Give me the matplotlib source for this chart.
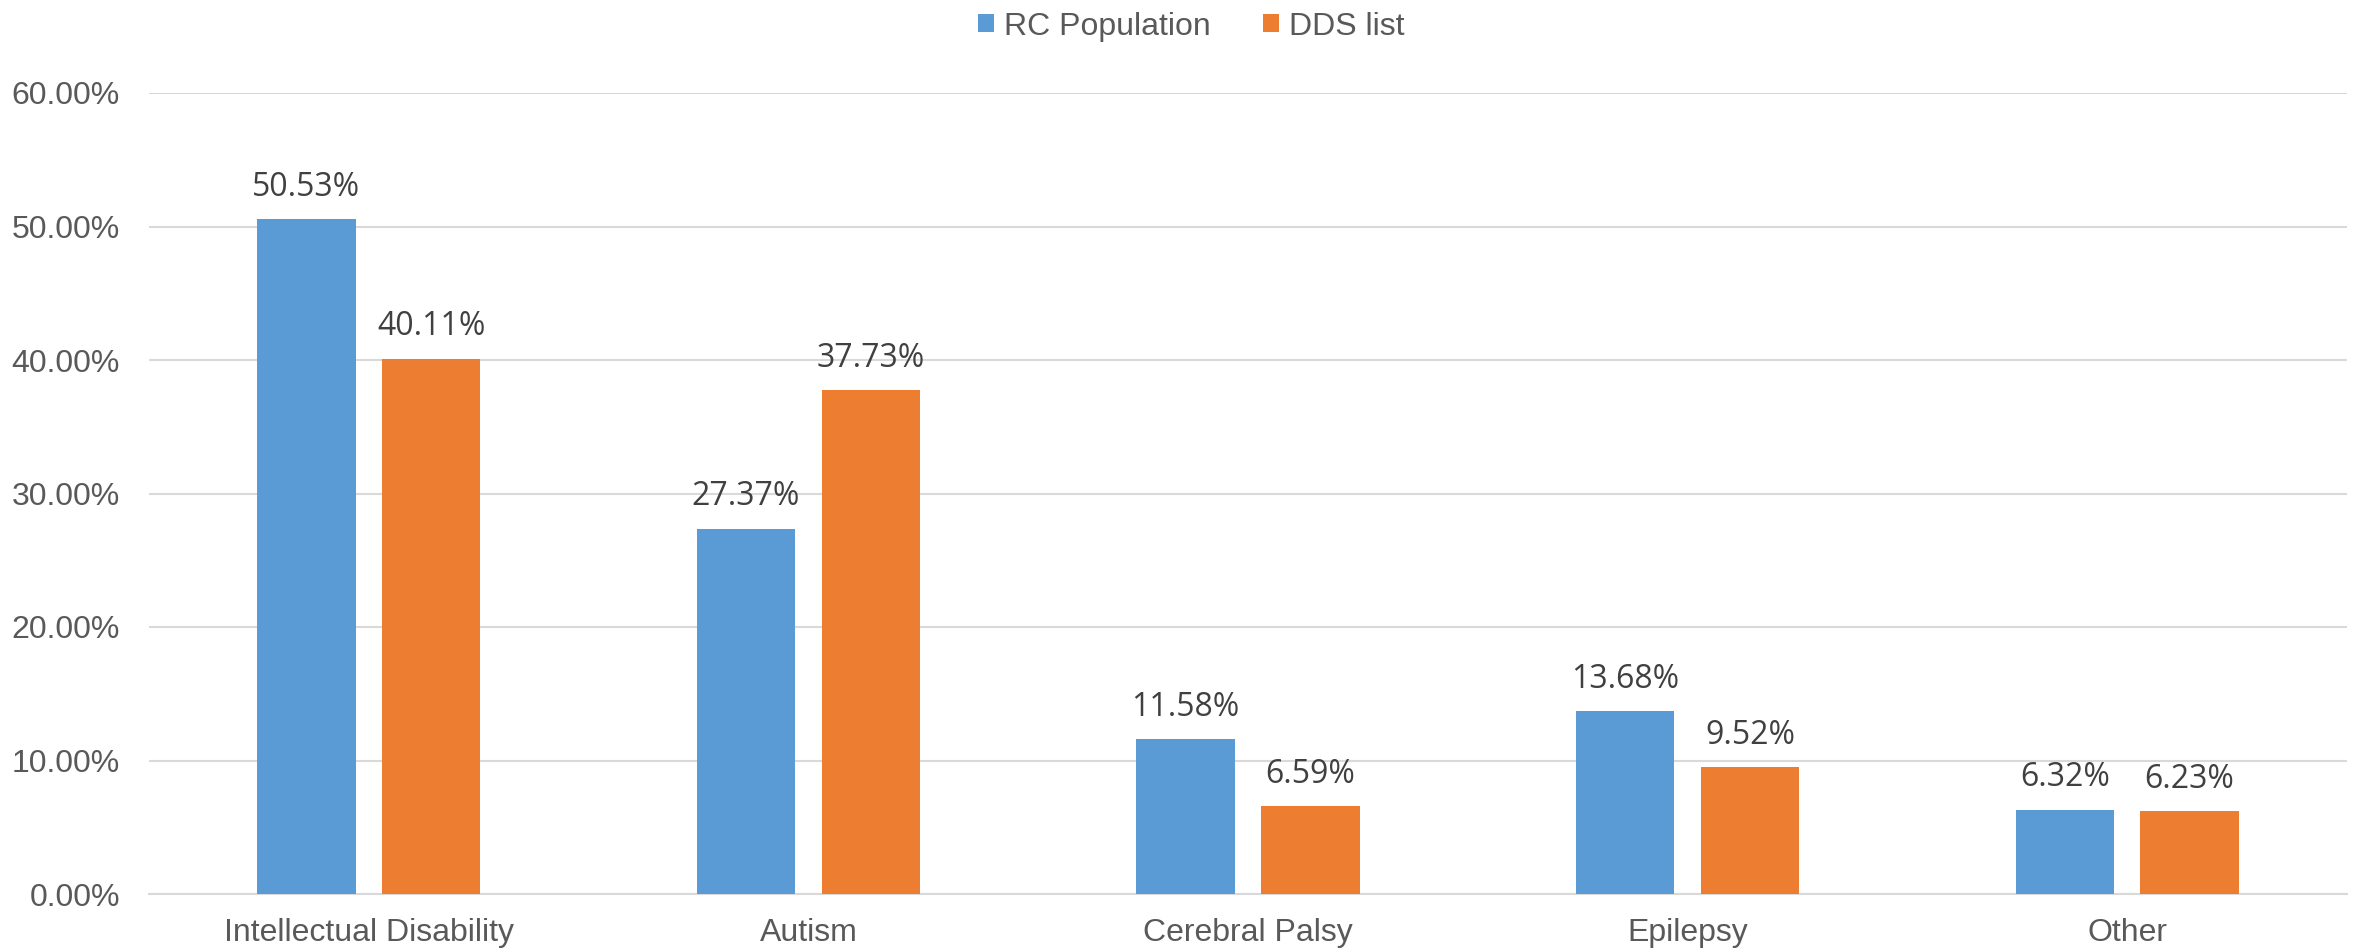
import matplotlib
matplotlib.use("Agg")
import matplotlib.pyplot as plt
import numpy as np
from matplotlib.ticker import FuncFormatter

categories = ["Intellectual Disability", "Autism", "Cerebral Palsy", "Epilepsy", "Other"]
rc_population = [50.53, 27.37, 11.58, 13.68, 6.32]
dds_list = [40.11, 37.73, 6.59, 9.52, 6.23]
series_names = ["RC Population", "DDS list"]
yticks = [0, 10, 20, 30, 40, 50, 60]

blue = "#5B9BD5"
orange = "#ED7D31"

fig = plt.figure(figsize=(23.59, 9.49), dpi=100)
ax = fig.add_axes([149/2359, 1-894/949, (2347-149)/2359, (894-93)/949])

x = np.arange(len(categories))
w = 0.224
off = (w + 0.06) / 2
b1 = ax.bar(x - off, rc_population, w, color=blue, label=series_names[0], zorder=3)
b2 = ax.bar(x + off, dds_list, w, color=orange, label=series_names[1], zorder=3)

for bars, vals in ((b1, rc_population), (b2, dds_list)):
    for rect, v in zip(bars, vals):
        ax.annotate(f"{v:.2f}%", (rect.get_x() + rect.get_width()/2, v),
                    xytext=(0, 11), textcoords="offset points",
                    ha="center", va="bottom", fontsize=23, color="#404040",
                    family="Open Sans")

ax.set_xlim(-0.5, len(categories) - 0.5)
ax.set_ylim(0, 60)
ax.set_yticks(yticks)
ax.yaxis.set_major_formatter(FuncFormatter(lambda v, p: f"{v:.2f}%"))
ax.set_xticks(x)
ax.set_xticklabels(categories)
ax.grid(axis="y", color="#D9D9D9", linewidth=1.5, zorder=0)
for s in ("top", "right", "left"):
    ax.spines[s].set_visible(False)
ax.spines["bottom"].set_color("#D9D9D9")
ax.spines["bottom"].set_linewidth(1.5)
ax.tick_params(axis="both", length=0, labelcolor="#595959", labelsize=23)
ax.tick_params(axis="y", pad=21)
ax.tick_params(axis="x", pad=17)
for lab in ax.get_xticklabels() + ax.get_yticklabels():
    lab.set_family("Liberation Sans")

leg = fig.legend(loc="upper center", bbox_to_anchor=(0.505, 1.018), ncol=2, frameon=False,
                 prop={"family": "Liberation Sans", "size": 23},
                 handlelength=0.5, handleheight=0.5, handletextpad=0.3, columnspacing=1.64)
for t in leg.get_texts():
    t.set_color("#595959")

fig.savefig("out.png", dpi=100)
